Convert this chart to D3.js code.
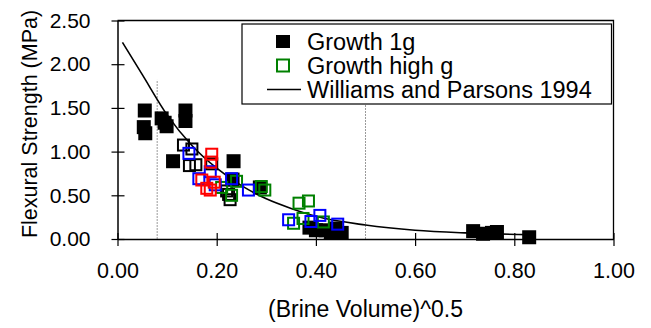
<!DOCTYPE html>
<html>
<head>
<meta charset="utf-8">
<script src="https://cdn.jsdelivr.net/npm/d3@7"></script>
<style>
  body { margin: 0; background: #fff; }
  text { font-family: "Liberation Sans", Arial, sans-serif; fill: #000; }
</style>
</head>
<body>
<div id="chart"></div>
<script>
// data
const growth1gX = [0.055, 0.053, 0.056, 0.089, 0.099, 0.095, 0.137, 0.137, 0.112, 0.234, 0.232, 0.287, 0.387, 0.400, 0.420, 0.440, 0.452, 0.430, 0.717, 0.737, 0.755, 0.765, 0.830];
const growth1gY = [1.47, 1.28, 1.21, 1.38, 1.29, 1.33, 1.47, 1.35, 0.89, 0.89, 0.68, 0.59, 0.13, 0.10, 0.10, 0.12, 0.07, 0.07, 0.09, 0.06, 0.07, 0.08, 0.02];

const highGX = [0.210, 0.230, 0.240, 0.290, 0.297, 0.366, 0.385, 0.355, 0.374, 0.415];
const highGY = [0.59, 0.50, 0.66, 0.60, 0.56, 0.41, 0.435, 0.18, 0.235, 0.195];

const blackOpenX = [0.133, 0.150, 0.145, 0.158, 0.190, 0.220, 0.224, 0.227];
const blackOpenY = [1.075, 1.03, 0.84, 0.85, 0.86, 0.55, 0.51, 0.45];

const blueOpenX = [0.144, 0.187, 0.164, 0.197, 0.230, 0.264, 0.345, 0.390, 0.408, 0.444];
const blueOpenY = [0.98, 0.77, 0.69, 0.62, 0.69, 0.56, 0.22, 0.20, 0.27, 0.17];

const redOpenX = [0.190, 0.188, 0.170, 0.180, 0.195, 0.187];
const redOpenY = [0.97, 0.88, 0.675, 0.58, 0.65, 0.56];

const curveX = [0.01, 0.05, 0.10, 0.15, 0.20, 0.25, 0.30, 0.35, 0.40, 0.50, 0.60, 0.70, 0.83];
const curveY = [2.25, 1.88, 1.42, 1.07, 0.81, 0.61, 0.46, 0.35, 0.26, 0.16, 0.10, 0.07, 0.05];

const refLinesX = [0.08, 0.5];
const refLineTop = 1.82;

const xTicks = [0, 0.2, 0.4, 0.6, 0.8, 1.0];
const yTicks = [0, 0.5, 1.0, 1.5, 2.0, 2.5];

const legendLabels = ["Growth 1g", "Growth high g", "Williams and Parsons 1994"];

const width = 651, height = 328;

const svg = d3.select("#chart").append("svg")
  .attr("width", width)
  .attr("height", height);

svg.append("rect").attr("width", width).attr("height", height).attr("fill", "#fff");

const x = d3.scaleLinear().domain([0, 1]).range([117.5, 613.5]);
const y = d3.scaleLinear().domain([0, 2.5]).range([239, 20.5]);

// plot frame (top and right)
svg.append("path")
  .attr("d", `M${x(0)},${y(2.5)}H${x(1)}V${y(0)}`)
  .attr("fill", "none")
  .attr("stroke", "#000")
  .attr("stroke-width", 1.3);

// grey reference lines
svg.selectAll(".ref")
  .data(refLinesX)
  .enter().append("line")
  .attr("class", "ref")
  .attr("x1", d => x(d)).attr("x2", d => x(d))
  .attr("y1", y(0)).attr("y2", y(refLineTop))
  .attr("stroke", "#9a9a9a")
  .attr("stroke-width", 1)
  .attr("stroke-dasharray", "2,1");

// axes
const fmt = d3.format(".2f");

const xAxis = svg.append("g")
  .attr("transform", `translate(0,${y(0)})`)
  .call(d3.axisBottom(x).tickValues(xTicks).tickFormat(fmt).tickSize(7).tickSizeOuter(0));
xAxis.select(".domain").attr("stroke-width", 1.5);
xAxis.selectAll(".tick line").attr("y1", -6).attr("stroke-width", 1.2);
xAxis.selectAll(".tick text")
  .attr("y", 24)
  .style("font-size", "21.5px")
  .style("font-family", "Liberation Sans, Arial, sans-serif");

const yAxis = svg.append("g")
  .attr("transform", `translate(${x(0)},0)`)
  .call(d3.axisLeft(y).tickValues(yTicks).tickFormat(fmt).tickSize(6).tickSizeOuter(0));
yAxis.select(".domain").attr("stroke-width", 1.5);
yAxis.selectAll(".tick line").attr("x1", 7).attr("stroke-width", 1.2);
yAxis.selectAll(".tick text")
  .attr("x", -27)
  .style("font-size", "21px")
  .style("font-family", "Liberation Sans, Arial, sans-serif");

// axis titles
svg.append("text")
  .attr("x", x(0.5))
  .attr("y", 317)
  .attr("text-anchor", "middle")
  .style("font-size", "23px")
  .text("(Brine Volume)^0.5");

svg.append("text")
  .attr("transform", "translate(37,124) rotate(-90)")
  .attr("text-anchor", "middle")
  .style("font-size", "21.5px")
  .text("Flexural Strength (MPa)");

// model curve
const curvePts = curveX.map((d, i) => [d, curveY[i]]);
svg.append("path")
  .datum(curvePts)
  .attr("fill", "none")
  .attr("stroke", "#000")
  .attr("stroke-width", 1.6)
  .attr("d", d3.line()
    .x(d => x(d[0]))
    .y(d => y(d[1]))
    .curve(d3.curveMonotoneX));

// markers
function filledSquares(xs, ys, color) {
  svg.append("g").selectAll("rect")
    .data(xs.map((d, i) => [d, ys[i]]))
    .enter().append("rect")
    .attr("x", d => x(d[0]) - 7)
    .attr("y", d => y(d[1]) - 7)
    .attr("width", 14).attr("height", 14)
    .attr("fill", color);
}

function openSquares(xs, ys, color) {
  svg.append("g").selectAll("rect")
    .data(xs.map((d, i) => [d, ys[i]]))
    .enter().append("rect")
    .attr("x", d => x(d[0]) - 5.5)
    .attr("y", d => y(d[1]) - 5.5)
    .attr("width", 11).attr("height", 11)
    .attr("fill", "none")
    .attr("stroke", color)
    .attr("stroke-width", 2);
}

filledSquares(growth1gX, growth1gY, "#000");
openSquares(blackOpenX, blackOpenY, "#000");
openSquares(highGX, highGY, "#008000");
openSquares(blueOpenX, blueOpenY, "#0000ff");
openSquares(redOpenX, redOpenY, "#ff0000");

// legend
const legend = svg.append("g");
legend.append("rect")
  .attr("x", 242).attr("y", 24)
  .attr("width", 369.5).attr("height", 80)
  .attr("fill", "#fff")
  .attr("stroke", "#000")
  .attr("stroke-width", 1.2);

const rowY = [41.5, 65.5, 89.5];

legend.append("rect")
  .attr("x", 276).attr("y", rowY[0] - 6.5)
  .attr("width", 14).attr("height", 13)
  .attr("fill", "#000");
legend.append("rect")
  .attr("x", 277).attr("y", rowY[1] - 6)
  .attr("width", 12).attr("height", 12)
  .attr("fill", "none")
  .attr("stroke", "#008000")
  .attr("stroke-width", 2);
legend.append("line")
  .attr("x1", 267).attr("x2", 301)
  .attr("y1", rowY[2]).attr("y2", rowY[2])
  .attr("stroke", "#000")
  .attr("stroke-width", 1.6);

legend.selectAll("text.lab")
  .data(legendLabels)
  .enter().append("text")
  .attr("class", "lab")
  .attr("x", 307)
  .attr("y", (d, i) => rowY[i] + 8)
  .style("font-size", "23.5px")
  .text(d => d);
</script>
</body>
</html>
